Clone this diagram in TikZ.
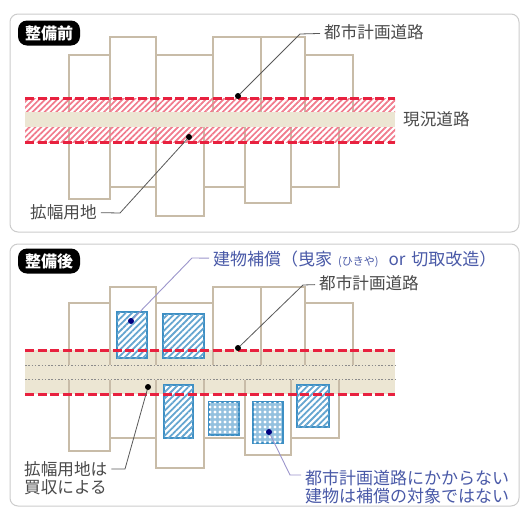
\documentclass[tikz,border=0pt]{standalone}
\usepackage{fontspec}
\setmainfont{Noto Sans CJK JP}
\usepackage{tikz}
\usetikzlibrary{patterns.meta}
\definecolor{wallc}{HTML}{C8BCA8}
\definecolor{roadc}{HTML}{ECE6D3}
\definecolor{redc}{HTML}{E8213F}
\definecolor{bluec}{HTML}{3D8FC4}
\definecolor{labelc}{HTML}{4A4A4A}
\definecolor{bluetext}{HTML}{4A5AA8}
\definecolor{leadc}{HTML}{9C96CC}

\begin{document}
\begin{tikzpicture}[
  x=1pt, y=-1pt,
  panel/.style={draw=black!20, line width=1pt, rounded corners=8pt, fill=white},
  badge/.style={fill=black, text=white, rounded corners=9pt, minimum width=62pt, minimum height=25pt, inner sep=0pt, font=\fontsize{16}{16}\selectfont\bfseries},
  wall/.style={draw=wallc, line width=1.2pt},
  road/.style={fill=roadc, draw=none},
  redhatch/.style={pattern={Lines[angle=45,distance=4.2pt,line width=1.7pt]}, pattern color=redc!60},
  redline/.style={draw=redc, line width=3pt, dash pattern=on 9pt off 3.5pt},
  dotline/.style={draw=black!45, line width=1pt, dash pattern=on 1.5pt off 1.8pt},
  block/.style={draw=bluec, line width=1.8pt, fill=white},
  bluehatch/.style={block, postaction={pattern={Lines[angle=45,distance=4.4pt,line width=1.8pt]}, pattern color=bluec!80}},
  bluedots/.style={block, fill=bluec!55, postaction={pattern={Dots[distance=5pt,radius=1.6pt]}, pattern color=white}},
  label/.style={text=labelc, anchor=west, inner sep=0pt, font=\fontsize{16.6}{18}\selectfont},
  bluelabel/.style={label, text=bluetext, font=\fontsize{17}{17}\selectfont},
  spot/.style={circle, fill=black, inner sep=0pt, minimum size=6pt},
  bluespot/.style={spot, fill=blue!50!black},
  leader/.style={draw=black!65, line width=0.8pt, shorten >=4pt},
  blueleader/.style={draw=leadc, line width=0.9pt, shorten >=4pt}
]
\useasboundingbox (0,0) rectangle (520,507);

\draw[panel] (10,14) rectangle (519,232);
\draw[panel] (10,244) rectangle (519,506);

\node[badge] (before) at (49,33) {整備前};
\node[badge] (after) at (49,261) {整備後};

\foreach \xa/\xb/\yt in {69/110/55, 110/156/37, 156/213/55, 213/261/37, 261/305/37, 305/353/55} {
  \draw[wall] (\xa,112) |- (\xb,\yt) -- (\xb,112);
}
\foreach \xa/\xb/\yb in {69/110/199, 110/156/187, 156/204/216, 204/245/187, 245/291/203, 291/339/187} {
  \draw[wall] (\xa,127) |- (\xb,\yb) -- (\xb,127);
}
\fill[redhatch] (25,98) rectangle (395,112);
\fill[redhatch] (25,127) rectangle (395,142);
\fill[road] (25,112) rectangle (395,127);
\draw[redline] (25,98) -- (395,98);
\draw[redline] (25,142) -- (395,142);

\fill[road] (25,350) rectangle (395,394);
\foreach \xa/\xb/\yt in {69/110/303, 110/156/287, 156/213/303, 213/261/287, 261/305/287, 305/353/303} {
  \draw[wall] (\xa,365) |- (\xb,\yt) -- (\xb,365);
}
\foreach \xa/\xb/\yb in {69/110/451, 110/156/438, 156/204/468, 204/245/438, 245/291/455, 291/339/438} {
  \draw[wall] (\xa,380) |- (\xb,\yb) -- (\xb,380);
}
\draw[dotline] (25,365) -- (395,365);
\draw[dotline] (25,379) -- (395,379);

\draw[bluehatch] (117,312) rectangle (147,358);
\draw[bluehatch] (163,314) rectangle (204,358);
\draw[bluehatch] (164,385) rectangle (193,438);
\draw[bluedots] (209,402) rectangle (239,435);
\draw[bluedots] (253,402) rectangle (283,443);
\draw[bluehatch] (297,385) rectangle (329,427);

\draw[redline] (25,350) -- (395,350);
\draw[redline] (25,394) -- (395,394);

\node[label] (plan1) at (324,32) {都市計画道路};
\node[label] (current) at (403,119) {現況道路};
\node[label] (widen1) at (30,212) {拡幅用地};
\node[bluelabel] (repair) at (213,259) {建物補償（曳家\hspace{6pt}{\fontsize{11}{11}\selectfont (ひきや)}\hspace{10pt}or\hspace{2pt} 切取改造）};
\node[label] (plan2) at (319,283) {都市計画道路};
\node[label, align=left] (widen2) at (24,478) {拡幅用地は\\買収による};
\node[bluelabel, align=left, font=\fontsize{17}{18}\selectfont] (outside) at (305,487) {都市計画道路にかからない\\建物は補償の対象ではない};

\node[spot] (s1) at (238,96) {};
\node[spot] (s2) at (189,137) {};
\node[spot] (s3) at (238,348) {};
\node[spot] (s4) at (148,387) {};
\node[bluespot] (s5) at (131,321) {};
\node[bluespot] (s6) at (269,432) {};

\draw[leader] (s1) -- (300,34) -- (plan1);
\draw[leader] (s2) -- (120,213) -- (widen1);
\draw[leader] (s3) -- (303,285) -- (plan2);
\draw[leader] (s4) -- (125,469) -- (widen2.east |- 0,469);
\draw[blueleader] (s5) -- (192,258) -- (repair);
\draw[blueleader] (s6) -- (290,475) -- (outside.west |- 0,475);
\end{tikzpicture}
\end{document}
